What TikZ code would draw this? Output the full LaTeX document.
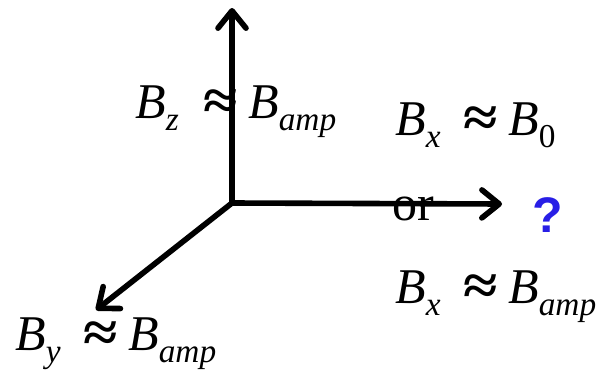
\documentclass[tikz,border=0pt]{standalone}
\usepackage{fontspec}
\setmainfont{Liberation Serif}
\newfontfamily\qfont{Liberation Sans}
\usetikzlibrary{arrows.meta}
\definecolor{qblue}{RGB}{40,30,230}
\newcommand\mainsz{\fontsize{37.5}{40}\selectfont}
\newcommand\subsz{\fontsize{25}{27}\selectfont}
\newcommand\Bsb[1]{\textit{B}\raisebox{-9pt}{\subsz\textit{#1}}}
\newcommand\Bzero{\textit{B}\raisebox{-9pt}{\subsz 0}}
\newcommand\apx{\raisebox{-1pt}{\scalebox{1.25}[1.12]{\textbf{≈}}}}
\newcommand\Eq[2]{\makebox[51pt][l]{#1}\makebox[33.75pt][l]{\apx}#2}
\tikzset{
  axis/.style={line width=4.2pt, -{Straight Barb[length=13pt,width=21pt,line width=4.2pt,round]}},
  eq/.style={anchor=base west, inner sep=0pt, font=\mainsz},
}
\begin{document}
\begin{tikzpicture}[x=0.75pt,y=-0.75pt]
\useasboundingbox (0,0) rectangle (606,382);
\coordinate (o) at (232,203);
\coordinate (ztip) at (232,8);
\coordinate (xtip) at (502,204);
\coordinate (ytip) at (96,310);
\draw[axis] (o) -- (ztip);
\draw[axis] (o) -- (xtip);
\draw[axis] (o) -- (ytip);
\node[eq] (bz) at (135,118) {\Eq{\Bsb{z}}{\Bsb{amp}}};
\node[eq] (bx0) at (395,135) {\Eq{\Bsb{x}}{\Bzero}};
\node[eq] (or) at (392,220) {or};
\node[eq, font=\mainsz\qfont\bfseries, text=qblue] (q) at (532,232) {?};
\node[eq] (bxa) at (395,303) {\Eq{\Bsb{x}}{\Bsb{amp}}};
\node[eq] (by) at (15,350) {\Eq{\Bsb{y}}{\Bsb{amp}}};
\end{tikzpicture}
\end{document}
